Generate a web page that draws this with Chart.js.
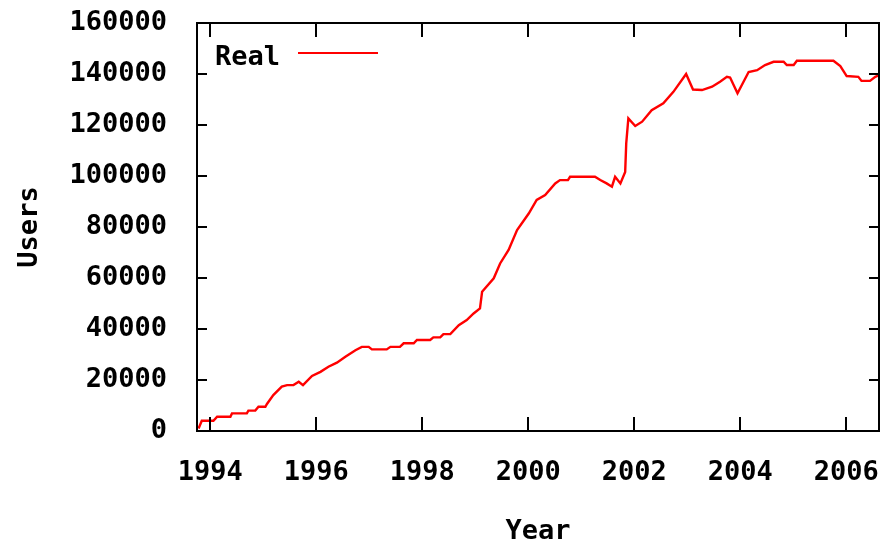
<!DOCTYPE html>
<html>
<head>
<meta charset="utf-8">
<script src="https://cdn.jsdelivr.net/npm/chart.js@4/dist/chart.umd.min.js"></script>
<style>
  html, body { margin: 0; padding: 0; background: #fff; }
  #wrap { width: 885px; height: 548px; }
</style>
</head>
<body>
<div id="wrap"><canvas id="usersChart" width="885" height="548"></canvas></div>
<script>
// 年 (小数) と利用者数
const years = [
  1993.78, 1993.84, 1994.06, 1994.13, 1994.38, 1994.41, 1994.69, 1994.72, 1994.85, 1994.91,
  1995.04, 1995.07, 1995.19, 1995.35, 1995.45, 1995.57, 1995.67, 1995.75, 1995.92, 1996.08,
  1996.23, 1996.39, 1996.55, 1996.74, 1996.86, 1996.99, 1997.05, 1997.33, 1997.40, 1997.58,
  1997.65, 1997.84, 1997.90, 1998.15, 1998.21, 1998.34, 1998.40, 1998.53, 1998.69, 1998.84,
  1998.97, 1999.09, 1999.13, 1999.35, 1999.47, 1999.63, 1999.79, 2000.01, 2000.16, 2000.32,
  2000.51, 2000.60, 2000.75, 2000.79, 2001.26, 2001.36, 2001.48, 2001.58, 2001.64, 2001.74,
  2001.83, 2001.85, 2001.89, 2002.02, 2002.15, 2002.33, 2002.55, 2002.74, 2002.98, 2003.11,
  2003.28, 2003.47, 2003.62, 2003.75, 2003.81, 2003.95, 2004.16, 2004.32, 2004.47, 2004.63,
  2004.82, 2004.88, 2005.01, 2005.07, 2005.76, 2005.89, 2006.01, 2006.23, 2006.29, 2006.45,
  2006.55, 2006.62
];
const users = [
  1000, 4000, 4000, 5600, 5600, 6900, 6900, 8000, 8000, 9500,
  9500, 10600, 14100, 17400, 18000, 18000, 19300, 18000, 21600, 23200,
  25200, 26800, 29100, 31700, 33000, 33000, 32000, 32000, 33000, 33000,
  34400, 34400, 35700, 35700, 36700, 36700, 38000, 38000, 41500, 43500,
  46100, 48100, 54600, 59900, 65700, 71000, 78800, 85300, 90600, 92500,
  97100, 98400, 98400, 99700, 99700, 98400, 97100, 95800, 99700, 97100,
  101600, 112800, 122600, 119600, 121300, 125800, 128500, 133000, 140000, 133900,
  133700, 135000, 137000, 138900, 138600, 132400, 140800, 141500, 143500, 144800,
  144800, 143500, 143500, 145200, 145200, 143100, 139200, 138900, 137300, 137300,
  138900, 139500
];
const tickYears = [1994, 1996, 1998, 2000, 2002, 2004, 2006];
const tickUsers = [0, 20000, 40000, 60000, 80000, 100000, 120000, 140000, 160000];

const FONT = { family: '"DejaVu Sans Mono", monospace', size: 27, weight: 'bold' };

// 枠と内向きの目盛り、凡例を描くプラグイン
const framePlugin = {
  id: 'frame',
  afterDraw(chart) {
    const { ctx, chartArea: a, scales } = chart;
    ctx.save();
    ctx.strokeStyle = '#000';
    ctx.lineWidth = 2;
    ctx.beginPath();
    scales.y.ticks.forEach(t => {
      const py = Math.round(scales.y.getPixelForValue(t.value));
      ctx.moveTo(a.left, py); ctx.lineTo(a.left + 10, py);
      ctx.moveTo(a.right, py); ctx.lineTo(a.right - 10, py);
    });
    scales.x.ticks.forEach(t => {
      const px = Math.round(scales.x.getPixelForValue(t.value));
      ctx.moveTo(px, a.bottom); ctx.lineTo(px, a.bottom - 14);
      ctx.moveTo(px, a.top); ctx.lineTo(px, a.top + 14);
    });
    ctx.stroke();
    ctx.strokeRect(a.left, a.top, a.right - a.left, a.bottom - a.top);

    // 凡例
    const ds = chart.data.datasets[0];
    ctx.font = `bold ${FONT.size}px ${FONT.family}`;
    ctx.fillStyle = '#000';
    ctx.textAlign = 'right';
    ctx.textBaseline = 'middle';
    ctx.fillText(ds.label, 280, 58);
    ctx.strokeStyle = ds.borderColor;
    ctx.lineWidth = 2;
    ctx.beginPath();
    ctx.moveTo(298, 53); ctx.lineTo(378, 53);
    ctx.stroke();
    ctx.restore();
  }
};

new Chart(document.getElementById('usersChart'), {
  type: 'line',
  data: {
    datasets: [{
      label: 'Real',
      data: years.map((x, i) => ({ x: x, y: users[i] })),
      borderColor: '#ff0000',
      borderWidth: 2.4,
      pointRadius: 0,
      tension: 0,
      fill: false
    }]
  },
  options: {
    responsive: false,
    animation: false,
    layout: { padding: { left: 14, top: 23, right: 6, bottom: 0 } },
    plugins: { legend: { display: false }, tooltip: { enabled: false } },
    scales: {
      x: {
        type: 'linear',
        min: 1993.75,
        max: 2006.62,
        afterBuildTicks: s => { s.ticks = tickYears.map(v => ({ value: v })); },
        afterFit: s => { s.height = 548 - 431; s.paddingLeft = 0; s.paddingRight = 0; },
        grid: { display: false },
        border: { display: false },
        ticks: { color: '#000', font: FONT, padding: 18, maxRotation: 0, callback: v => String(v) },
        title: { display: true, text: 'Year', color: '#000', font: FONT, padding: 0 }
      },
      y: {
        min: 0,
        max: 160000,
        afterBuildTicks: s => { s.ticks = tickUsers.map(v => ({ value: v })); },
        afterFit: s => { s.width = 197 - 14; s.paddingTop = 0; s.paddingBottom = 0; },
        grid: { display: false },
        border: { display: false },
        ticks: { color: '#000', font: FONT, padding: 22, callback: v => String(v) },
        title: { display: true, text: 'Users', color: '#000', font: FONT, padding: 0 }
      }
    }
  },
  plugins: [framePlugin]
});
</script>
</body>
</html>
